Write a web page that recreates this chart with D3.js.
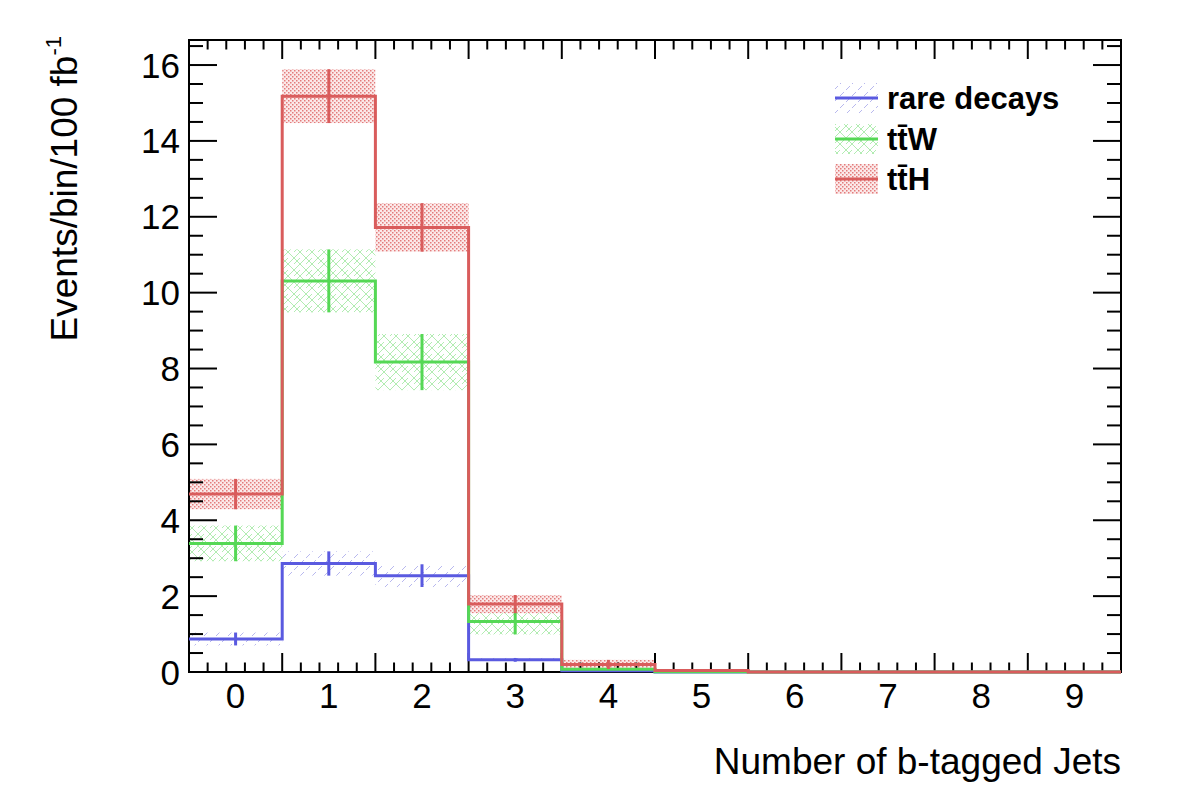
<!DOCTYPE html>
<html>
<head>
<meta charset="utf-8">
<script src="https://cdn.jsdelivr.net/npm/d3@7/dist/d3.min.js"></script>
<style>
  html, body { margin: 0; padding: 0; background: #fff; }
  svg { display: block; }
  text { font-family: "Liberation Sans", Arial, Helvetica, sans-serif; fill: #000; }
</style>
</head>
<body>
<svg id="chart" width="1182" height="800"></svg>
<script>
// ---------- data ----------
const categories = [0, 1, 2, 3, 4, 5, 6, 7, 8, 9];
const rareDecays    = [0.87, 2.86, 2.54, 0.32, 0.03, 0.0, 0, 0, 0, 0];
const rareDecaysErr = [0.17, 0.32, 0.30, 0.05, 0.01, 0.0, 0, 0, 0, 0];
const ttW           = [3.39, 10.31, 8.17, 1.33, 0.07, 0.005, 0, 0, 0, 0];
const ttWErr        = [0.47, 0.83, 0.74, 0.34, 0.03, 0.005, 0, 0, 0, 0];
const ttH           = [4.69, 15.18, 11.72, 1.79, 0.20, 0.04, 0, 0, 0, 0];
const ttHErr        = [0.40, 0.71, 0.64, 0.24, 0.12, 0.01, 0, 0, 0, 0];
const yTicks = [0, 2, 4, 6, 8, 10, 12, 14, 16];
const seriesNames = ["rare decays", "tt\u0304W", "tt\u0304H"];
const xTitle = "Number of b-tagged Jets";
const yTitle = "Events/bin/100 fb";
const yTitleSup = "-1";

// ---------- layout ----------
const L = 189, R = 1121, T = 40, B = 672;
const svg = d3.select("#chart");
const x = d3.scaleLinear().domain([-0.5, 9.5]).range([L, R]);
const y = d3.scaleLinear().domain([0, 16.66]).range([B, T]);

const colors = ["#5a5ae0", "#55d855", "#d95c5c"];

// ---------- patterns ----------
const defs = svg.append("defs");
// blue: sparse dashed diagonal
const pb = defs.append("pattern").attr("id", "patBlue").attr("patternUnits", "userSpaceOnUse")
  .attr("width", 12).attr("height", 12);
pb.append("path").attr("d", "M0,12 L4,8 M6,6 L10,2").attr("stroke", "#b8b8ee").attr("stroke-width", 1);
// green: cross hatch
const pg = defs.append("pattern").attr("id", "patGreen").attr("patternUnits", "userSpaceOnUse")
  .attr("width", 12).attr("height", 12);
pg.append("path").attr("d", "M0,0 L12,12 M12,0 L0,12 M-6,6 L0,0 M6,12 L12,6")
  .attr("stroke", "#b2ecb2").attr("stroke-width", 1).attr("fill", "none");
// red: dense dots
const pr = defs.append("pattern").attr("id", "patRed").attr("patternUnits", "userSpaceOnUse")
  .attr("width", 4).attr("height", 4);
pr.append("rect").attr("x", 0).attr("y", 0).attr("width", 4).attr("height", 4).attr("fill", "#fbe9e9");
pr.append("rect").attr("x", 0).attr("y", 0).attr("width", 1.5).attr("height", 1.5).attr("fill", "#e37b7b");
pr.append("rect").attr("x", 2).attr("y", 2).attr("width", 1.5).attr("height", 1.5).attr("fill", "#e37b7b");
const patterns = ["url(#patBlue)", "url(#patGreen)", "url(#patRed)"];

const series = [
  { vals: rareDecays, errs: rareDecaysErr },
  { vals: ttW, errs: ttWErr },
  { vals: ttH, errs: ttHErr }
];

// ---------- error bands ----------
series.forEach((s, si) => {
  svg.append("g").selectAll("rect").data(categories.filter((c, i) => s.errs[i] > 0))
    .join("rect")
    .attr("x", c => x(c - 0.5))
    .attr("width", c => x(c + 0.5) - x(c - 0.5))
    .attr("y", c => y(s.vals[c] + s.errs[c]))
    .attr("height", c => y(s.vals[c] - s.errs[c]) - y(s.vals[c] + s.errs[c]))
    .attr("fill", patterns[si]);
});

// ---------- frame + ticks ----------
const frame = svg.append("g");
frame.append("rect").attr("x", L).attr("y", T).attr("width", R - L).attr("height", B - T)
  .attr("fill", "none").attr("stroke", "#000").attr("stroke-width", 2);

const xMajor = d3.range(0, 11).map(i => i - 0.5);
const xMinor = [];
for (let i = 0; i < 10; i++) for (let k = 1; k < 5; k++) xMinor.push(i - 0.5 + k * 0.2);
const yMajorT = yTicks;
const yMinorT = d3.range(0, 16.6, 0.5).filter(v => v % 2 !== 0);

const tk = svg.append("g").attr("stroke", "#000").attr("stroke-width", 2);
xMajor.forEach(v => {
  tk.append("line").attr("x1", x(v)).attr("x2", x(v)).attr("y1", B).attr("y2", B - 19);
  tk.append("line").attr("x1", x(v)).attr("x2", x(v)).attr("y1", T).attr("y2", T + 19);
});
xMinor.forEach(v => {
  tk.append("line").attr("x1", x(v)).attr("x2", x(v)).attr("y1", B).attr("y2", B - 9.5);
  tk.append("line").attr("x1", x(v)).attr("x2", x(v)).attr("y1", T).attr("y2", T + 9.5);
});
yMajorT.forEach(v => {
  tk.append("line").attr("x1", L).attr("x2", L + 28).attr("y1", y(v)).attr("y2", y(v));
  tk.append("line").attr("x1", R).attr("x2", R - 28).attr("y1", y(v)).attr("y2", y(v));
});
yMinorT.forEach(v => {
  tk.append("line").attr("x1", L).attr("x2", L + 14).attr("y1", y(v)).attr("y2", y(v));
  tk.append("line").attr("x1", R).attr("x2", R - 14).attr("y1", y(v)).attr("y2", y(v));
});

// tick labels
svg.append("g").selectAll("text").data(categories).join("text")
  .attr("x", c => x(c)).attr("y", 708).attr("text-anchor", "middle")
  .style("font-size", "35px").text(c => c);
svg.append("g").selectAll("text").data(yTicks).join("text")
  .attr("x", 180).attr("y", v => y(v) + 12.5).attr("text-anchor", "end")
  .style("font-size", "35px").text(v => v);

// titles
svg.append("text").attr("x", R).attr("y", 774).attr("text-anchor", "end")
  .style("font-size", "37px").text(xTitle);
const yt = svg.append("text").attr("transform", "translate(77,36) rotate(-90)")
  .attr("text-anchor", "end").style("font-size", "37px");
yt.append("tspan").text(yTitle);
yt.append("tspan").attr("dy", -16).style("font-size", "22px").text(yTitleSup);

// ---------- histograms (steps) ----------
const stepLine = d3.line().x(d => d[0]).y(d => d[1]);
series.forEach((s, si) => {
  const pts = [];
  categories.forEach((c, i) => {
    pts.push([x(c - 0.5), y(s.vals[i])]);
    pts.push([x(c + 0.5), y(s.vals[i])]);
  });
  svg.append("path").attr("d", stepLine(pts)).attr("fill", "none")
    .attr("stroke", colors[si]).attr("stroke-width", 3);
  // error bars
  svg.append("g").selectAll("line").data(categories.filter((c, i) => s.errs[i] > 0.04))
    .join("line")
    .attr("x1", c => x(c)).attr("x2", c => x(c))
    .attr("y1", c => y(s.vals[c] + s.errs[c]))
    .attr("y2", c => y(s.vals[c] - s.errs[c]))
    .attr("stroke", colors[si]).attr("stroke-width", 3);
});

// ---------- legend ----------
const legY = [98, 139, 179];
const lg = svg.append("g");
seriesNames.forEach((n, i) => {
  lg.append("rect").attr("x", 835).attr("y", legY[i] - 15).attr("width", 43).attr("height", 30)
    .attr("fill", patterns[i]);
  lg.append("line").attr("x1", 835).attr("x2", 878).attr("y1", legY[i]).attr("y2", legY[i])
    .attr("stroke", colors[i]).attr("stroke-width", 3);
  lg.append("text").attr("x", 887).attr("y", legY[i] + 11)
    .style("font-size", "31px").style("font-weight", "bold").text(n);
});
</script>
</body>
</html>
